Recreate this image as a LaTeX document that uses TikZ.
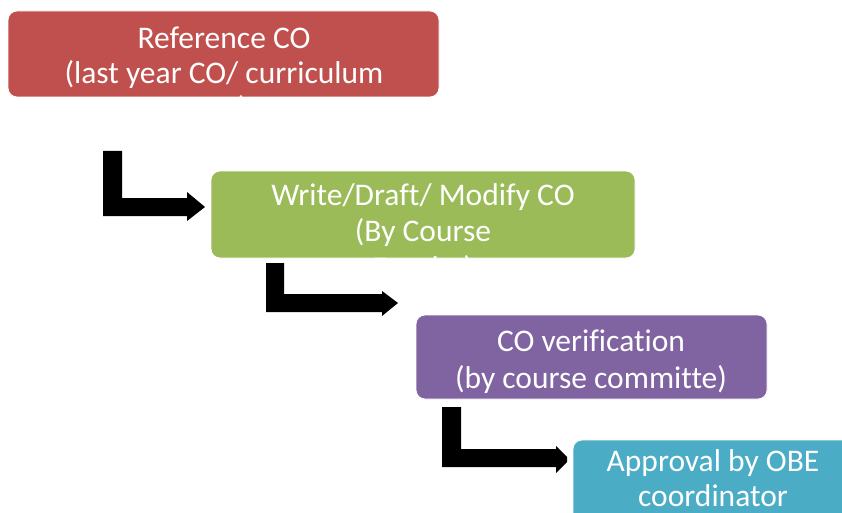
\documentclass[tikz,border=0pt]{standalone}
\usepackage{fontspec}
\setmainfont{Carlito}[Ligatures=NoCommon]
\definecolor{boxred}{HTML}{C0504D}
\definecolor{boxgreen}{HTML}{9BBB59}
\definecolor{boxpurple}{HTML}{8064A2}
\definecolor{boxcyan}{HTML}{4BACC6}
\tikzset{
  stagebox/.style={draw=white, line width=0.8pt, rounded corners=9pt},
  boxtext/.style={text=white, font=\fontsize{31.5}{36}\selectfont, anchor=base, inner sep=0pt},
  bentarrow/.style={fill=black, draw=none}
}
\begin{document}
\begin{tikzpicture}[x=1pt, y=-1pt]
\useasboundingbox (0,0) rectangle (842,513);
% boxes
\path[stagebox, fill=boxred] (8,11) rectangle (439,97);
\path[stagebox, fill=boxgreen] (211,171) rectangle (635,258);
\path[stagebox, fill=boxpurple] (416,315) rectangle (767,399);
\path[stagebox, fill=boxcyan] (573,440) rectangle (855,526);
% box 1 text
\node[boxtext] (t1a) at (224,49) {Reference CO};
\node[boxtext] (t1b) at (224,84) {(last year CO/ curriculum};
\begin{scope}
\clip[rounded corners=9pt] (8,11) rectangle (439,97);
\node[boxtext] (t1c) at (243,119) {)};
\end{scope}
% box 2 text
\node[boxtext] (t2a) at (423,205) {Write/Draft/ Modify CO};
\node[boxtext] (t2b) at (423,241.5) {(By Course};
\begin{scope}
\clip[rounded corners=9pt] (211,171) rectangle (635,258);
\node[boxtext] (t2c) at (423,278) {Faculty)};
\end{scope}
% box 3 text
\node[boxtext] (t3a) at (591,351.5) {CO verification};
\node[boxtext] (t3b) at (591,388) {(by course committe)};
% box 4 text
\node[boxtext] (t4a) at (713,471.5) {Approval by OBE};
\node[boxtext] (t4b) at (713,506.5) {coordinator};
% bent arrows
\fill[bentarrow] (103,151) -- (122,151) -- (122,198) -- (187,198) -- (187,192)
  -- (205,207) -- (187,221) -- (187,216) -- (103,216) -- cycle;
\fill[bentarrow] (266,263) -- (284,263) -- (284,294) -- (382,294) -- (382,291)
  -- (398,303) -- (382,316) -- (382,312) -- (266,312) -- cycle;
\fill[bentarrow] (442,407) -- (461,407) -- (461,449) -- (556,449) -- (556,446)
  -- (567,457) -- (567,462) -- (556,473) -- (556,467) -- (442,467) -- cycle;
\end{tikzpicture}
\end{document}
